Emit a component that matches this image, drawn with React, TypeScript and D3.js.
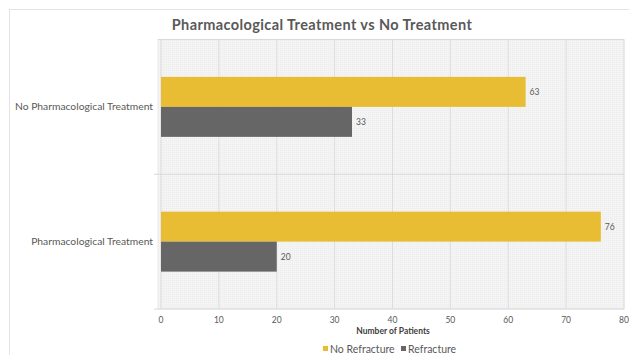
import * as React from 'react';
import * as d3 from 'd3';

const categories = ['No Pharmacological Treatment', 'Pharmacological Treatment'];
const seriesNames = ['No Refracture', 'Refracture'];
const noRefracture = [63, 76];
const refracture = [33, 20];
const xTicks = [0, 10, 20, 30, 40, 50, 60, 70, 80];
const colors = ['#E8BD33', '#666666'];

const W = 629;
const H = 355;
const FONT = 'Lato, "DejaVu Sans", sans-serif';

export default function App() {
  const x = d3.scaleLinear().domain([0, 80]).range([161, 624]);
  const y = d3.scaleBand().domain(categories).range([39.5, 309]).paddingInner(0).paddingOuter(0);
  const sub = d3.scaleBand().domain(seriesNames).range([0, y.bandwidth()]).paddingInner(0).paddingOuter(1.246);
  const values = [noRefracture, refracture];

  return (
    <svg width={W} height={H} style={{ position: 'absolute', left: 0, top: 0 }} fontFamily={FONT}>
      <defs>
        <pattern id="dots" width="2" height="2" patternUnits="userSpaceOnUse">
          <rect width="2" height="2" fill="#f4f4f4" />
          <rect width="1" height="1" fill="#ececec" />
        </pattern>
      </defs>
      <rect x={0} y={0} width={W} height={H} fill="#ffffff" />
      <rect x={9.5} y={9.5} width={W} height={H} fill="none" stroke="#e3e3e3" />

      <text x={322} y={30} textAnchor="middle" fontSize={14.5} fontWeight="bold" fill="#595959" letterSpacing={0.4}>
        Pharmacological Treatment vs No Treatment
      </text>

      <rect x={158} y={39.5} width={466} height={269.5} fill="url(#dots)" stroke="#e2e2e2" strokeWidth={0.6} />

      {xTicks.map(t => (
        <line key={t} x1={x(t)} x2={x(t)} y1={39.5} y2={309} stroke="#dcdcdc" strokeWidth={1} />
      ))}
      {[39.5, 39.5 + y.step(), 309].map((yy, i) => (
        <line key={i} x1={i === 0 ? 158 : 154} x2={624} y1={yy} y2={yy} stroke="#d9d9d9" strokeWidth={1} />
      ))}

      {categories.map((c, ci) => (
        <g key={c}>
          <text x={153} y={y(c)! + y.bandwidth() / 2 + 3.5} textAnchor="end" fontSize={10.3} fill="#595959">
            {c}
          </text>
          {seriesNames.map((s, si) => {
            const v = values[si][ci];
            const by = y(c)! + sub(s)!;
            return (
              <g key={s}>
                <rect x={x(0)} y={by} width={x(v) - x(0)} height={sub.bandwidth()} fill={colors[si]} />
                <text x={x(v) + 4} y={by + sub.bandwidth() / 2 + 3} fontSize={8.5} fill="#595959">
                  {v}
                </text>
              </g>
            );
          })}
        </g>
      ))}

      {xTicks.map(t => (
        <text key={t} x={x(t)} y={323} textAnchor="middle" fontSize={8.5} fill="#595959">
          {t}
        </text>
      ))}
      <text x={393} y={334} textAnchor="middle" fontSize={8.5} fontWeight="bold" fill="#404040">
        Number of Patients
      </text>

      {seriesNames.map((s, i) => {
        const lx = i === 0 ? 323 : 401;
        return (
          <g key={s}>
            <rect x={lx} y={346} width={5} height={5} fill={colors[i]} />
            <text x={lx + 7} y={353} fontSize={10.5} fill="#595959">
              {s}
            </text>
          </g>
        );
      })}
    </svg>
  );
}
